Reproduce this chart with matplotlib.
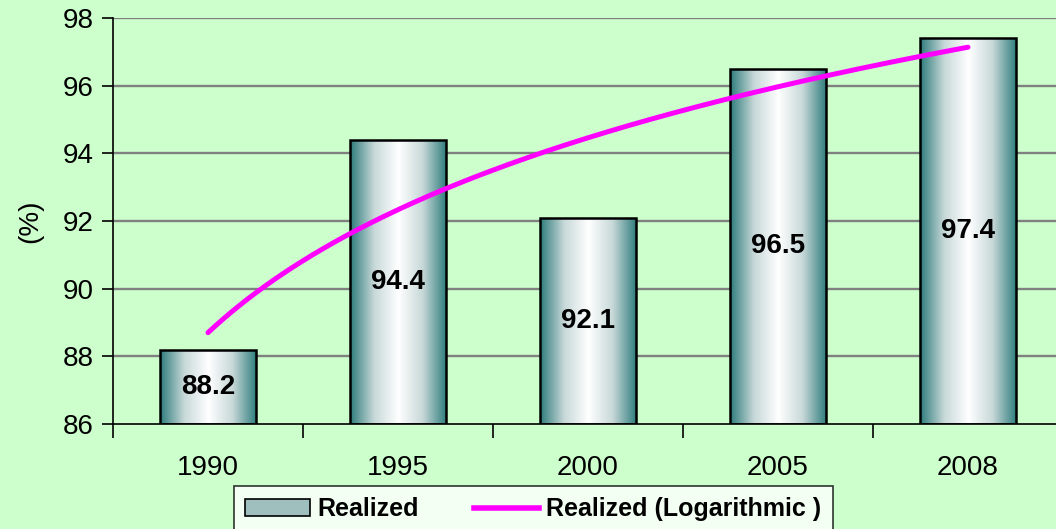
import numpy as np
import matplotlib.pyplot as plt
from matplotlib.colors import LinearSegmentedColormap
from matplotlib.patches import Rectangle
from matplotlib.lines import Line2D

plt.rcParams['font.family'] = ['Liberation Sans', 'DejaVu Sans']

# Data
years = ['1990', '1995', '2000', '2005', '2008']
realized = [88.2, 94.4, 92.1, 96.5, 97.4]
y_ticks = [86, 88, 90, 92, 94, 96, 98]

bg = '#CCFFCC'
teal = '#2E7C7C'
grad = LinearSegmentedColormap.from_list('cyl', [teal, '#C8D8D8', '#FFFFFF', '#C8D8D8', teal])

fig = plt.figure(figsize=(10.56, 5.29), dpi=100, facecolor=bg)
# plot area runs off the right edge like the original
ax = fig.add_axes([113 / 1056, 1 - 424 / 529, 950 / 1056, 406 / 529])
ax.set_facecolor(bg)

x = np.arange(len(years))
ax.set_xlim(-0.5, len(years) - 0.5)
ax.set_ylim(86, 98)

for yv in y_ticks[1:]:
    ax.axhline(yv, color='#808080', lw=1.7, zorder=1)

# gradient bars
width = 0.51
gimg = np.linspace(0, 1, 256).reshape(1, -1)
for xi, v in zip(x, realized):
    x0 = xi - width / 2
    im = ax.imshow(gimg, cmap=grad, aspect='auto', extent=[x0, x0 + width, 86, v],
                   zorder=2, interpolation='bilinear')
    rect = Rectangle((x0, 86), width, v - 86, fill=False, ec='black', lw=1.8, zorder=3)
    ax.add_patch(rect)
    im.set_clip_path(rect)
    ax.text(xi, 86 + (v - 86) / 2, f'{v:.1f}', ha='center', va='center',
            fontsize=20, fontweight='bold', zorder=4)

# logarithmic trend line fitted to the realized values
t = np.arange(1, len(years) + 1)
a, b = np.polyfit(np.log(t), realized, 1)
tt = np.linspace(1, len(years), 200)
ax.plot(tt - 1, a * np.log(tt) + b, color='#FF00FF', lw=3.6, zorder=5,
        solid_capstyle='round')

ax.set_yticks(y_ticks)
ax.set_yticklabels([str(v) for v in y_ticks], fontsize=20)
ax.set_xticks(x)
ax.set_xticklabels(years, fontsize=20)
ax.tick_params(axis='x', length=0, pad=22)
ax.tick_params(axis='y', length=8, width=1.2, direction='out', pad=6)
ax.set_xticks([-0.5] + list(np.arange(0.5, len(years) - 0.5)), minor=True)
ax.tick_params(axis='x', which='minor', length=10, width=1.2, direction='out')

for s in ['top', 'right']:
    ax.spines[s].set_visible(False)
ax.spines['left'].set_linewidth(1.2)
ax.spines['bottom'].set_linewidth(1.2)

fig.text(30 / 1056, 1 - 221 / 529, '(%)', rotation=90, ha='center', va='center', fontsize=20)

# legend
bar_handle = Rectangle((0, 0), 1, 1, fc='#9FBFBF', ec='black', lw=1.2)
line_handle = Line2D([], [], color='#FF00FF', lw=4)
leg = fig.legend([bar_handle, line_handle], ['Realized', 'Realized (Logarithmic )'],
                 loc='lower left', bbox_to_anchor=(221 / 1056, -16 / 529), ncol=2,
                 prop={'size': 18, 'weight': 'bold'}, frameon=True, fancybox=False,
                 edgecolor='black', handlelength=2.6, handletextpad=0.3, columnspacing=2.2,
                 borderpad=0.45)
leg.get_frame().set_linewidth(1.2)

fig.savefig('out.png', dpi=100, facecolor=bg)
